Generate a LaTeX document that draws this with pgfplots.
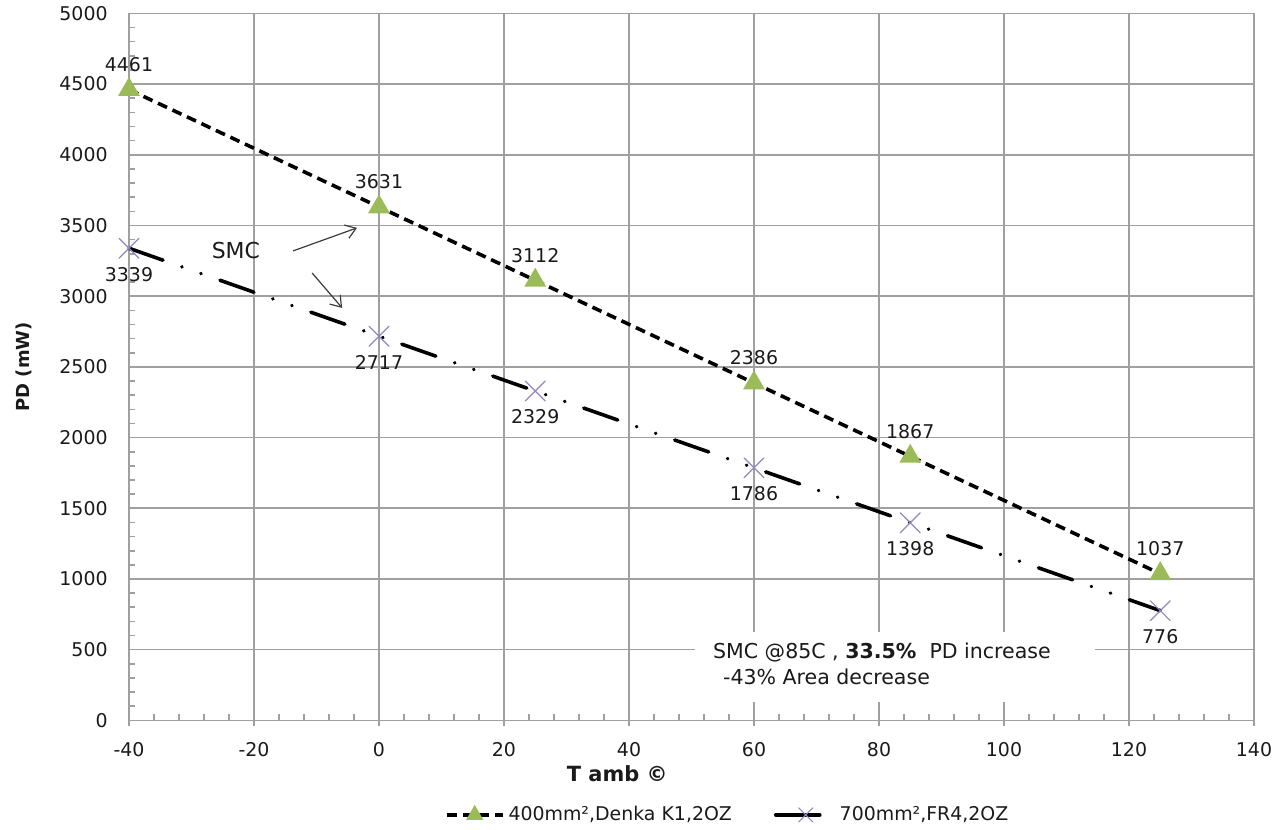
\documentclass[border=0pt]{standalone}
\usepackage{fontspec}
\setmainfont{DejaVu Sans}
\usepackage{pgfplots}
\pgfplotsset{compat=1.18}
\usetikzlibrary{calc,arrows.meta}
\definecolor{gridc}{HTML}{A0A0A0}
\definecolor{tri}{HTML}{9BBB59}
\definecolor{crossc}{HTML}{9486BE}
\definecolor{ink}{HTML}{1A1A1A}
\newcommand\fs{\fontsize{9.5}{11.4}\selectfont}
\pgfplotsset{
  legone/.style={legend image code/.code={\draw[##1, mark size=3.2bp, mark repeat=2, mark phase=2] plot coordinates {(0bp,0bp) (14bp,0bp) (28bp,0bp)};}},
  legtwo/.style={legend image code/.code={\draw[black, solid, line width=1.8bp] (0bp,0bp) -- (22bp,0bp);
    \draw[crossc, solid, line width=0.6bp] plot[only marks, mark=x, mark size=5bp] coordinates {(15bp,0bp)};
    \path[draw=none] (0bp,0bp) -- (30bp,0bp);}},
}

\begin{document}
\begin{tikzpicture}
\begin{axis}[
  scale only axis, width=562.5bp, height=353.5bp,
  xmin=-40, xmax=140, ymin=0, ymax=5000,
  xtick={-40,-20,...,140}, ytick={0,500,...,5000},
  minor x tick num=4, minor y tick num=4,
  tick pos=left,
  grid=major, grid style={draw=gridc, line width=0.8bp},
  axis line style={draw=gridc, line width=0.8bp},
  tick style={draw=gridc, line width=0.8bp},
  tick align=inside, minor tick length=3bp, major tick length=-3bp,
  major y tick style={draw=none},
  ticklabel style={font=\fs, text=ink},
  /pgf/number format/assume math mode=true,
  /pgf/number format/1000 sep={},
  xticklabel style={anchor=center, inner sep=0pt}, xticklabel shift=14.75bp,
  yticklabel style={anchor=east, inner sep=0pt}, yticklabel shift=10.5bp,
  clip=false,
  legend columns=2,
  legend style={at={(rel axis cs:0.533,0)}, yshift=-47.25bp, anchor=center,
    draw=none, fill=none, font=\fs, text=ink,
    /tikz/every even column/.append style={column sep=19bp}},
]
\coordinate (sw) at (rel axis cs:0,0);
\coordinate (ne) at (rel axis cs:1,1);

% white box behind the note
\fill[white] (axis cs:50.56,131) rectangle (axis cs:114.56,626);

\addplot[black, line width=1.8bp, dash pattern=on 5bp off 3bp,
  mark=triangle*, mark size=4.5bp, mark options={solid, fill=tri, draw=tri},
  nodes near coords, nodes near coords style={font=\fs, text=ink, anchor=center, yshift=12.5bp},
  legone]
  coordinates {(-40,4461) (0,3631) (25,3112) (60,2386) (85,1867) (125,1037)};
\addlegendentry{400mm²,Denka K1,2OZ}

\addplot[black, line width=1.8bp, line cap=round,
  dash pattern=on 18bp off 10bp on 0.1bp off 10bp on 0.1bp off 10bp,
  mark=x, mark size=7bp, mark options={solid, draw=crossc, line width=0.6bp},
  nodes near coords, nodes near coords style={font=\fs, text=ink, anchor=center, yshift=-13bp},
  legtwo]
  coordinates {(-40,3339) (0,2717) (25,2329) (60,1786) (85,1398) (125,776)};
\addlegendentry{700mm²,FR4,2OZ}

% annotations
\node[anchor=west, font=\fontsize{10.3}{12}\selectfont, text=ink, inner sep=0pt] at (axis cs:53.4,477) {SMC @85C , \textbf{33.5\%}\ \ PD increase};
\node[anchor=west, font=\fontsize{10.3}{12}\selectfont, text=ink, inner sep=0pt] at (axis cs:55.0,308) {-43\% Area decrease};
\node[font=\fontsize{11}{13}\selectfont, text=ink] at (axis cs:-22.9,3320) {SMC};
\draw[-{Straight Barb[length=5bp,width=7bp]}, line width=0.6bp, ink!85] (axis cs:-13.76,3320) -- (axis cs:-3.52,3483);
\draw[-{Straight Barb[length=5bp,width=7bp]}, line width=0.6bp, ink!85] (axis cs:-10.7,3164) -- (axis cs:-5.9,2917);

% axis titles
\node[font=\fontsize{10.5}{12}\selectfont\bfseries, text=ink] at ([yshift=-26.75bp]rel axis cs:0.434,0) {T amb ©};
\node[font=\fontsize{9}{11}\selectfont\bfseries, text=ink, rotate=90] at ([xshift=-52.75bp]rel axis cs:0,0.5) {PD (mW)};
\end{axis}
\pgfresetboundingbox
\path ($(sw)+(-64.5bp,-54.75bp)$) rectangle ($(ne)+(14bp,6.7bp)$);
\end{tikzpicture}
\end{document}
